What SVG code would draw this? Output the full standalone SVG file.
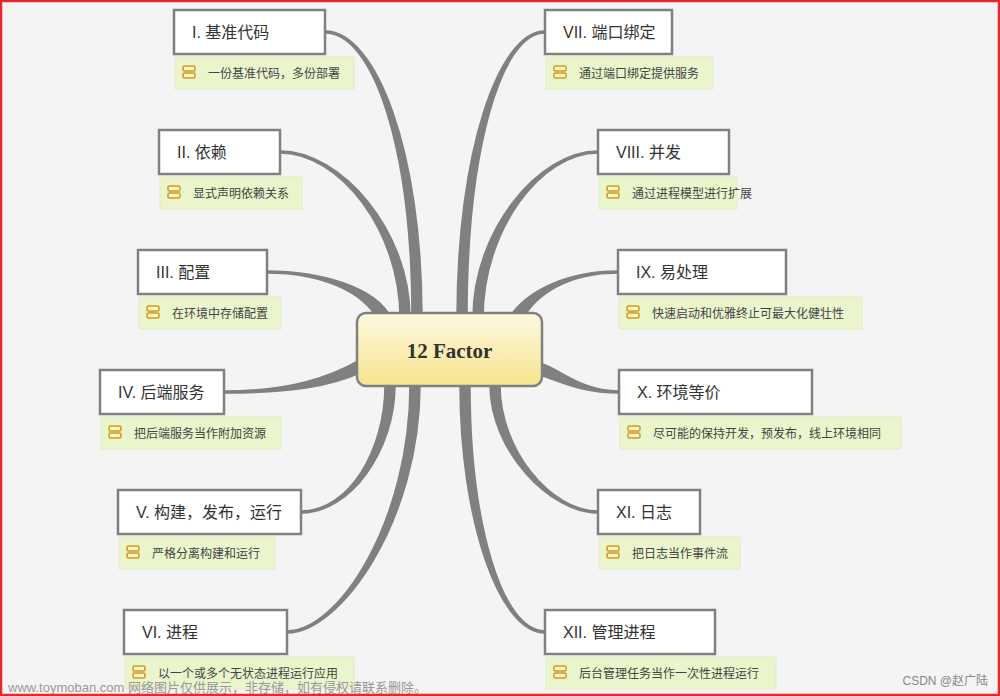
<svg xmlns="http://www.w3.org/2000/svg" width="1000" height="696" viewBox="0 0 1000 696">
<defs>
<linearGradient id="cg" x1="0" y1="0" x2="0" y2="1"><stop offset="0" stop-color="#fdf8e0"/><stop offset="1" stop-color="#f6e58e"/></linearGradient>
<g id="ic"><rect x="0" y="0" width="12" height="5" rx="1.5" fill="#fff6c8" stroke="#d09a20" stroke-width="1.5"/><rect x="0" y="7" width="12" height="5" rx="1.5" fill="#fff6c8" stroke="#d09a20" stroke-width="1.5"/></g>
</defs>
<style>
.n{fill:#fff;stroke:#808080;stroke-width:2.5}
.nt{font-family:"Liberation Sans","Noto Sans CJK SC",sans-serif;font-size:16px;fill:#333}
.b{fill:#eaf5cc;stroke:#e2ebc8;stroke-width:1}
.bt{font-family:"Liberation Sans","Noto Sans CJK SC",sans-serif;font-size:12px;fill:#444}
.c{fill:#808080;stroke:#808080;stroke-width:3.5;stroke-linejoin:round}
</style>
<rect x="0" y="0" width="1000" height="696" fill="#f4f4f4"/>
<g id="connectors">
<path class="c" d="M325,32 C375,32 413,150 413,318 L421,318 C421,150 375,32 325,32 Z"/>
<path class="c" d="M280,152 C340,152 401,230 401,318 L409,318 C409,230 340,152 280,152 Z"/>
<path class="c" d="M267,272 C320,272 365,290 380,322 L390,318 C375,288 320,272 267,272 Z"/>
<path class="c" d="M224,392 C290,392 330,378 360,361 L362,371 C330,386 290,392 224,392 Z"/>
<path class="c" d="M301,512 C350,512 386,450 386,385 L394,385 C394,450 350,512 301,512 Z"/>
<path class="c" d="M287,632 C340,632 411,520 411,385 L419,385 C419,520 340,632 287,632 Z"/>
<path class="c" d="M545,32 C500,32 458,150 458,318 L466,318 C466,150 500,32 545,32 Z"/>
<path class="c" d="M598,152 C540,152 474,230 474,318 L482,318 C482,230 540,152 598,152 Z"/>
<path class="c" d="M618,272 C570,272 528,290 510,318 L520,322 C535,292 570,272 618,272 Z"/>
<path class="c" d="M619,392 C580,392 560,370 540,364 L540,374 C560,380 580,392 619,392 Z"/>
<path class="c" d="M598,512 C550,512 491,450 491,385 L499,385 C499,450 550,512 598,512 Z"/>
<path class="c" d="M545,632 C500,632 461,520 461,385 L469,385 C469,520 500,632 545,632 Z"/>
</g>
<g id="center"><rect x="357" y="313" width="185" height="73" rx="9" fill="url(#cg)" stroke="#808080" stroke-width="2.5"/><text x="449.5" y="358" text-anchor="middle" font-family="Liberation Serif,serif" font-weight="bold" font-size="21" fill="#333">12 Factor</text></g>
<g id="n1"><rect class="n" x="174" y="10" width="151" height="44"/><text class="nt" x="192" y="38">I. 基准代码</text><rect class="b" x="175" y="57" width="179" height="32"/><use href="#ic" x="183" y="66"/><text class="bt" x="208" y="78">一份基准代码，多份部署</text></g>
<g id="n2"><rect class="n" x="159" y="130" width="121" height="44"/><text class="nt" x="177" y="158">II. 依赖</text><rect class="b" x="160" y="177" width="142" height="32"/><use href="#ic" x="168" y="186"/><text class="bt" x="193" y="198">显式声明依赖关系</text></g>
<g id="n3"><rect class="n" x="138" y="250" width="129" height="44"/><text class="nt" x="156" y="278">III. 配置</text><rect class="b" x="139" y="297" width="142" height="32"/><use href="#ic" x="147" y="306"/><text class="bt" x="172" y="318">在环境中存储配置</text></g>
<g id="n4"><rect class="n" x="100" y="370" width="124" height="44"/><text class="nt" x="118" y="398">IV. 后端服务</text><rect class="b" x="101" y="417" width="180" height="32"/><use href="#ic" x="109" y="426"/><text class="bt" x="134" y="438">把后端服务当作附加资源</text></g>
<g id="n5"><rect class="n" x="118" y="490" width="183" height="44"/><text class="nt" x="136" y="518">V. 构建，发布，运行</text><rect class="b" x="119" y="537" width="156" height="32"/><use href="#ic" x="127" y="546"/><text class="bt" x="152" y="558">严格分离构建和运行</text></g>
<g id="n6"><rect class="n" x="124" y="610" width="163" height="44"/><text class="nt" x="142" y="638">VI. 进程</text><rect class="b" x="125" y="657" width="229" height="32"/><use href="#ic" x="133" y="666"/><text class="bt" x="158" y="678">以一个或多个无状态进程运行应用</text></g>
<g id="n7"><rect class="n" x="545" y="10" width="127" height="44"/><text class="nt" x="563" y="38">VII. 端口绑定</text><rect class="b" x="546" y="57" width="167" height="32"/><use href="#ic" x="554" y="66"/><text class="bt" x="579" y="78">通过端口绑定提供服务</text></g>
<g id="n8"><rect class="n" x="598" y="130" width="131" height="44"/><text class="nt" x="616" y="158">VIII. 并发</text><rect class="b" x="599" y="177" width="138" height="32"/><use href="#ic" x="607" y="186"/><text class="bt" x="632" y="198">通过进程模型进行扩展</text></g>
<g id="n9"><rect class="n" x="618" y="250" width="168" height="44"/><text class="nt" x="636" y="278">IX. 易处理</text><rect class="b" x="619" y="297" width="243" height="32"/><use href="#ic" x="627" y="306"/><text class="bt" x="652" y="318">快速启动和优雅终止可最大化健壮性</text></g>
<g id="n10"><rect class="n" x="619" y="370" width="193" height="44"/><text class="nt" x="637" y="398">X. 环境等价</text><rect class="b" x="620" y="417" width="281" height="32"/><use href="#ic" x="628" y="426"/><text class="bt" x="653" y="438">尽可能的保持开发，预发布，线上环境相同</text></g>
<g id="n11"><rect class="n" x="598" y="490" width="102" height="44"/><text class="nt" x="616" y="518">XI. 日志</text><rect class="b" x="599" y="537" width="141" height="32"/><use href="#ic" x="607" y="546"/><text class="bt" x="632" y="558">把日志当作事件流</text></g>
<g id="n12"><rect class="n" x="545" y="610" width="170" height="44"/><text class="nt" x="563" y="638">XII. 管理进程</text><rect class="b" x="546" y="657" width="230" height="32"/><use href="#ic" x="554" y="666"/><text class="bt" x="579" y="678">后台管理任务当作一次性进程运行</text></g>
<text x="8" y="692" font-family="Liberation Sans,Noto Sans CJK SC,sans-serif" font-size="13" fill="#999">www.toymoban.com 网络图片仅供展示，非存储，如有侵权请联系删除。</text>
<text x="988" y="685" text-anchor="end" font-family="Liberation Sans,Noto Sans CJK SC,sans-serif" font-size="12" fill="#888">CSDN @赵广陆</text>
<rect x="1" y="1" width="998" height="694" fill="none" stroke="#e8262d" stroke-width="2.5"/>
</svg>
